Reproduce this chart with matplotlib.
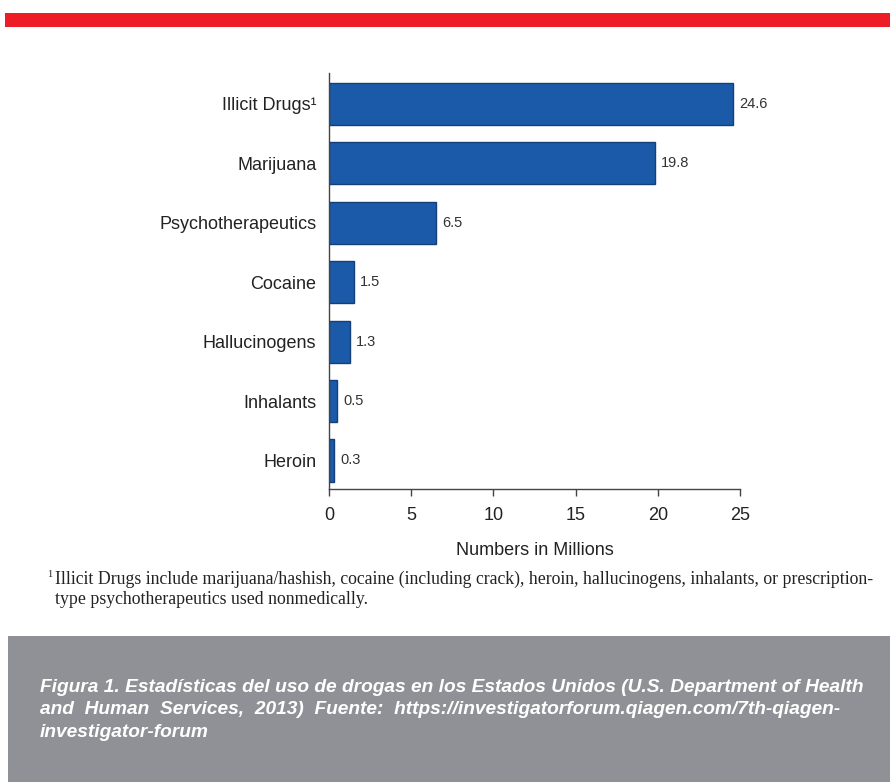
import matplotlib
matplotlib.use("Agg")
import matplotlib.pyplot as plt
from matplotlib import font_manager
from matplotlib.patches import Rectangle

categories = ["Illicit Drugs\u00b9", "Marijuana", "Psychotherapeutics", "Cocaine",
              "Hallucinogens", "Inhalants", "Heroin"]
values = [24.6, 19.8, 6.5, 1.5, 1.3, 0.5, 0.3]
value_labels = ["24.6", "19.8", "6.5", "1.5", "1.3", "0.5", "0.3"]
xticks = [0, 5, 10, 15, 20, 25]
xlabel = "Numbers in Millions"
footnote_1 = "Illicit Drugs include marijuana/hashish, cocaine (including crack), heroin, hallucinogens, inhalants, or prescription-"
footnote_2 = "type psychotherapeutics used nonmedically."
caption_lines = [
    "Figura 1. Estad\u00edsticas del uso de drogas en los Estados Unidos (U.S. Department of Health",
    "and  Human  Services,  2013)  Fuente:  https://investigatorforum.qiagen.com/7th-qiagen-",
    "investigator-forum",
]

names = {f.name for f in font_manager.fontManager.ttflist}
narrow = "Liberation Sans Narrow" if "Liberation Sans Narrow" in names else None

W, H = 890, 782
fig = plt.figure(figsize=(W / 100, H / 100), dpi=100)
fig.patch.set_facecolor("white")

# red band on top
fig.patches.append(Rectangle((5 / W, 1 - 27 / H), 1 - 5 / W, 14 / H,
                             transform=fig.transFigure, facecolor="#ee1d25",
                             edgecolor="none", zorder=0))
# grey caption box
fig.patches.append(Rectangle((8 / W, 0), 1 - 8 / W, (H - 636) / H,
                             transform=fig.transFigure, facecolor="#909196",
                             edgecolor="none", zorder=0))

ax = fig.add_axes([329 / W, 1 - 489 / H, (740 - 329) / W, (489 - 73) / H])
ax.set_facecolor("none")
ypos = list(range(len(categories)))
ax.barh(ypos, values, height=0.71, color="#1b5aa8", edgecolor="#143f78", linewidth=1.0)
ax.set_xlim(0, 25)
ax.set_ylim(6.48, -0.52)
ax.set_yticks(ypos)
ax.set_yticklabels(categories, fontsize=13, family="Liberation Sans", color="#222222")
ax.set_xticks(xticks)
ax.set_xticklabels([str(t) for t in xticks], fontsize=13, family="Liberation Sans", color="#222222")
ax.tick_params(axis="y", length=0, pad=9)
ax.tick_params(axis="x", length=5, width=1, pad=8, color="#444444", direction="out")
for s in ["top", "right"]:
    ax.spines[s].set_visible(False)
for s in ["left", "bottom"]:
    ax.spines[s].set_color("#444444")
    ax.spines[s].set_linewidth(1.0)
ax.set_xlabel(xlabel, fontsize=13, family="Liberation Sans", color="#222222", labelpad=13)

for y, v, lab in zip(ypos, values, value_labels):
    ax.annotate(lab, (v, y), xytext=(6, 0), textcoords="offset pixels",
                va="center", ha="left", fontsize=10.5, family="Liberation Sans",
                color="#333333")

# footnote
fig.text(47 / W, 1 - 577 / H, "1", fontsize=7.5, family="Liberation Serif", color="#222222",
         va="baseline", ha="left")
fig.text(55 / W, 1 - 584 / H, footnote_1, fontsize=12.8, family="Liberation Serif",
         color="#222222", va="baseline", ha="left")
fig.text(55 / W, 1 - 604 / H, footnote_2, fontsize=12.8, family="Liberation Serif",
         color="#222222", va="baseline", ha="left")

# caption
cap_kw = dict(color="white", fontweight="bold", fontstyle="italic", va="baseline", ha="left")
if narrow:
    cap_kw.update(family=narrow, fontsize=16.5)
else:
    cap_kw.update(family="Liberation Sans", fontsize=13.8)
for i, line in enumerate(caption_lines):
    fig.text(40 / W, 1 - (692 + 22.5 * i) / H, line, **cap_kw)

fig.savefig("out.png", dpi=100, facecolor=fig.get_facecolor())
